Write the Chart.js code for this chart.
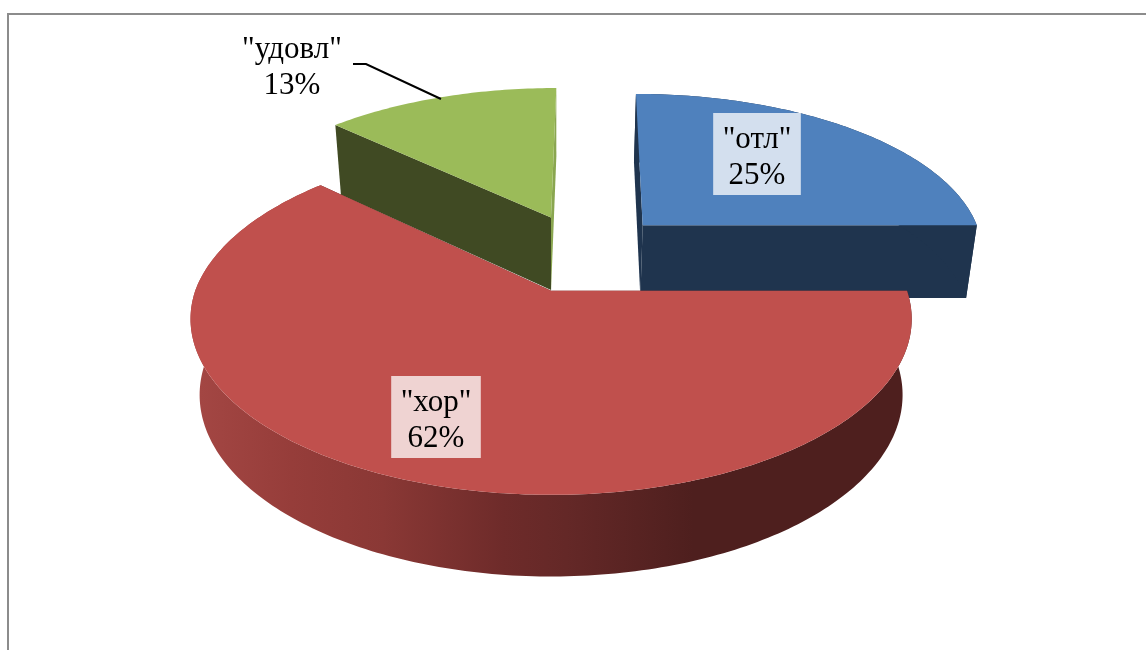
<!DOCTYPE html>
<html>
<head>
<meta charset="utf-8">
<style>
    html, body { margin: 0; padding: 0; background: #fff; overflow: hidden; }
    #wrap { position: absolute; left: 0; top: 0; width: 1146px; height: 650px; overflow: hidden; }
    #frame { position: absolute; left: 7px; top: 13px; width: 1160px; height: 700px; border: 2px solid #8c8c8c; box-sizing: border-box; }
</style>
</head>
<body>
<div id="wrap">
    <canvas id="chart" width="1146" height="650"></canvas>
    <div id="frame"></div>
</div>
<script src="https://cdn.jsdelivr.net/npm/chart.js@4"></script>
<script>
const categories = ['"отл"', '"хор"', '"удовл"'];
const percents = [25, 62, 13];
const topColors = ['#4F81BD', '#C0504D', '#9BBB59'];
const wallColors = ['#1F344E', '#4E1F1E', '#404A23'];
// the wall on the closing edge of each slice, only the green one differs
const endWallColors = ['#1F344E', '#4E1F1E', '#8AA650'];

// where the labels sit, same order as categories
const labelX = [757, 436, 292];
const labelY = [148, 411, 58];
const labelBox = [true, true, false];

// fake perspective, fitted on the picture
const originX = 551, originY = 291;
const topW = 356, topH = 171.4, lowW = 347, lowH = 177, lowDrop = 75;
const kx = 0.16, ky = 0.16, shear = 5;
// pie centre on the plane, relative to the red apex
const centerU = 0.092, centerV = -0.2325;
const explode = 72;

function project(u, v, low) {
    const wx = 1 - kx * v;
    const wy = 1 - ky * v;
    const lean = -shear * Math.min(v, 0);
    if (low) {
        return [originX + lowW * u / wx + lean, originY + lowDrop + lowH * v / wy];
    }
    return [originX + topW * u / wx + lean, originY + topH * v / wy];
}

function fillPoly(ctx, points, fill) {
    ctx.beginPath();
    points.forEach((p, i) => i ? ctx.lineTo(p[0], p[1]) : ctx.moveTo(p[0], p[1]));
    ctx.closePath();
    ctx.fillStyle = fill;
    ctx.fill();
}

function wallFill(ctx, index) {
    if (index !== 1) return wallColors[index];
    const g = ctx.createLinearGradient(200, 0, 905, 0);
    g.addColorStop(0, '#A34643');
    g.addColorStop(0.13, '#963D3A');
    g.addColorStop(0.26, '#8A3835');
    g.addColorStop(0.43, '#6E2B2A');
    g.addColorStop(0.52, '#642827');
    g.addColorStop(0.70, '#4E1F1E');
    g.addColorStop(1, '#4E1F1E');
    return g;
}

function drawSlice(ctx, arc, index) {
    const d = arc.options.offset / arc.outerRadius;
    const mid = (arc.startAngle + arc.endAngle) / 2;
    const cu = centerU + d * Math.cos(mid);
    const cv = centerV + d * Math.sin(mid);
    const fill = wallFill(ctx, index);

    const rimTop = [], rimLow = [];
    const steps = Math.ceil((arc.endAngle - arc.startAngle) * 60);
    for (let i = 0; i <= steps; i++) {
        const a = arc.startAngle + (arc.endAngle - arc.startAngle) * i / steps;
        const u = cu + Math.cos(a), v = cv + Math.sin(a);
        rimTop.push(project(u, v, false));
        rimLow.push(project(u, v, true));
    }
    const apexTop = project(cu, cv, false);
    const apexLow = project(cu, cv, true);

    // radial walls, then the outer wall, then the top face over them
    fillPoly(ctx, [apexTop, rimTop[steps], rimLow[steps], apexLow], endWallColors[index]);
    fillPoly(ctx, [apexTop, rimTop[0], rimLow[0], apexLow], fill);
    if (index !== 2) fillPoly(ctx, rimTop.concat(rimLow.slice().reverse()), fill);
    fillPoly(ctx, [apexTop].concat(rimTop), topColors[index]);
}

const pie3d = {
    id: 'pie3d',
    beforeDatasetDraw(chart, args) {
        const ctx = chart.ctx;
        const arcs = args.meta.data;
        ctx.save();
        [2, 0, 1].forEach(i => drawSlice(ctx, arcs[i], i));
        ctx.restore();
        return false;
    },
    afterDatasetsDraw(chart) {
        const ctx = chart.ctx;
        ctx.save();

        // leader line of the small slice
        ctx.strokeStyle = '#000';
        ctx.lineWidth = 2;
        ctx.beginPath();
        ctx.moveTo(353, 64);
        ctx.lineTo(366, 64);
        ctx.lineTo(441, 99);
        ctx.stroke();

        ctx.font = '31px "Liberation Serif"';
        ctx.textAlign = 'center';
        ctx.textBaseline = 'alphabetic';
        categories.forEach((name, i) => {
            const value = percents[i] + '%';
            if (labelBox[i]) {
                const w = Math.max(ctx.measureText(name).width, ctx.measureText(value).width) + 19;
                ctx.fillStyle = 'rgba(255, 255, 255, 0.75)';
                ctx.fillRect(labelX[i] - w / 2, labelY[i] - 35, w, 82);
            }
            ctx.fillStyle = '#000';
            ctx.fillText(name, labelX[i], labelY[i]);
            ctx.fillText(value, labelX[i], labelY[i] + 36);
        });
        ctx.restore();
    }
};

new Chart(document.getElementById('chart'), {
    type: 'pie',
    data: {
        labels: categories,
        datasets: [{
            data: percents,
            backgroundColor: topColors,
            borderWidth: 0,
            offset: explode
        }]
    },
    options: {
        responsive: false,
        animation: false,
        events: [],
        plugins: {
            legend: { display: false },
            tooltip: { enabled: false }
        }
    },
    plugins: [pie3d]
});
</script>
</body>
</html>
